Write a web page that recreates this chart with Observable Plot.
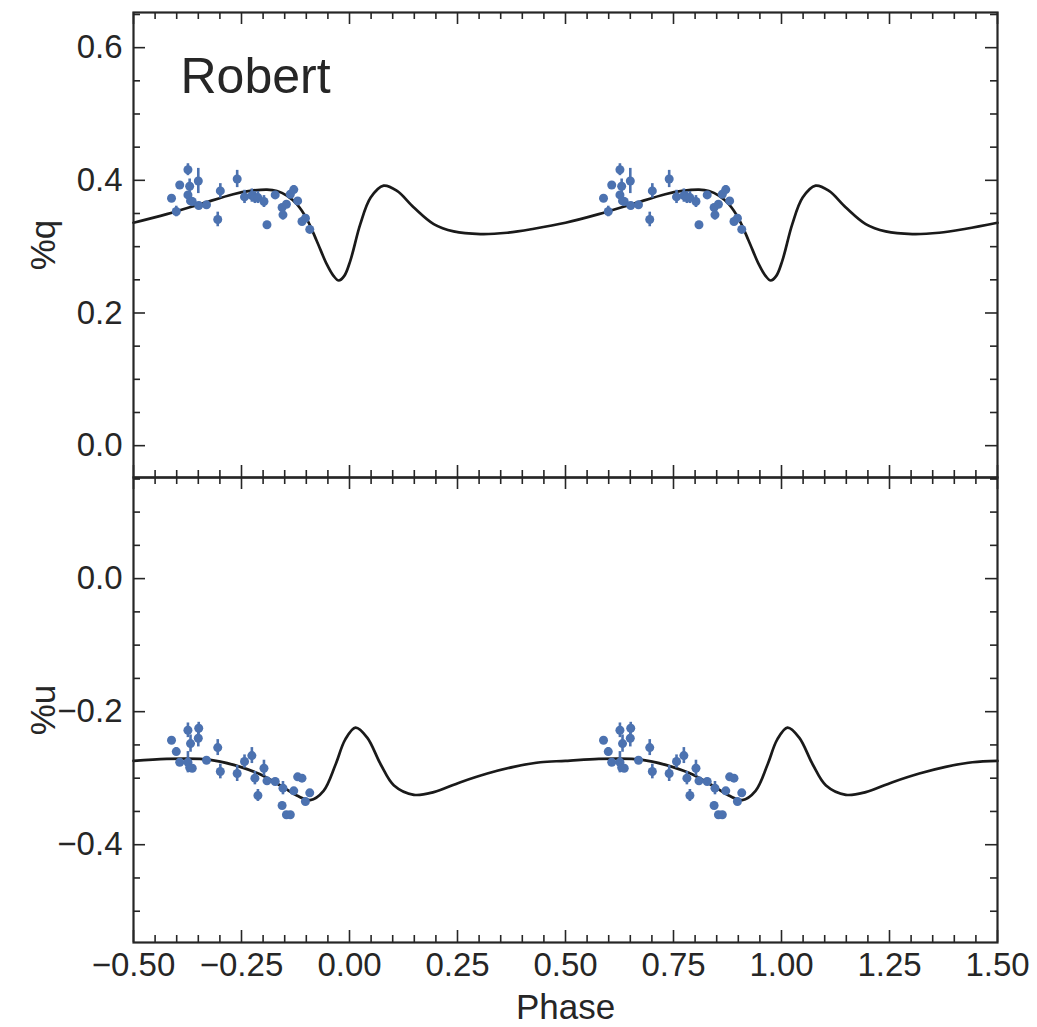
<!DOCTYPE html>
<html>
<head>
<meta charset="utf-8">
<script src="https://cdn.jsdelivr.net/npm/d3@7"></script>
<script src="https://cdn.jsdelivr.net/npm/@observablehq/plot@0.6"></script>
<style>
  html, body { margin: 0; padding: 0; background: #fff; }
  #wrap { position: relative; width: 1037px; height: 1027px; }
  #wrap svg { position: absolute; left: 0; overflow: visible; }
</style>
</head>
<body>
<div id="wrap"></div>
<script>
// ---- observed data (one cycle; shown twice, at phase and phase + 1) ----
const phase = [-0.412,-0.401,-0.393,-0.374,-0.374,-0.370,-0.368,-0.364,-0.350,-0.349,-0.331,-0.305,-0.299,-0.260,-0.243,-0.226,-0.219,-0.212,-0.198,-0.191,-0.172,-0.156,-0.154,-0.146,-0.137,-0.129,-0.120,-0.110,-0.102,-0.092];
const qObs  = [0.373,0.353,0.393,0.416,0.378,0.391,0.369,0.368,0.399,0.362,0.363,0.341,0.384,0.402,0.375,0.377,0.374,0.374,0.368,0.333,0.378,0.359,0.348,0.364,0.379,0.386,0.369,0.338,0.343,0.326];
const qErr  = [0.004,0.008,0.004,0.009,0.005,0.011,0.005,0.005,0.019,0.005,0.005,0.011,0.011,0.013,0.010,0.010,0.009,0.009,0.009,0.005,0.005,0.005,0.008,0.005,0.006,0.006,0.005,0.005,0.005,0.005];
const uObs  = [-0.243,-0.260,-0.276,-0.276,-0.228,-0.284,-0.248,-0.285,-0.240,-0.225,-0.273,-0.254,-0.290,-0.293,-0.275,-0.266,-0.300,-0.326,-0.285,-0.304,-0.305,-0.341,-0.315,-0.355,-0.355,-0.319,-0.298,-0.300,-0.335,-0.322];
const uErr  = [0.004,0.006,0.005,0.016,0.011,0.005,0.013,0.005,0.013,0.009,0.005,0.012,0.011,0.012,0.010,0.012,0.010,0.009,0.012,0.005,0.005,0.005,0.010,0.005,0.005,0.005,0.005,0.005,0.005,0.005];

// ---- model curves (one cycle) ----
const qModelPhase = [-0.5,-0.423,-0.346,-0.269,-0.230,-0.191,-0.168,-0.145,-0.122,-0.099,-0.076,-0.053,-0.037,-0.025,-0.012,0.002,0.025,0.049,0.079,0.110,0.149,0.195,0.241,0.303,0.365,0.427];
const qModel      = [0.336,0.349,0.364,0.379,0.384,0.386,0.384,0.377,0.364,0.342,0.309,0.274,0.256,0.249,0.256,0.279,0.334,0.374,0.392,0.384,0.359,0.334,0.323,0.319,0.321,0.327];
const uModelPhase = [-0.5,-0.423,-0.346,-0.299,-0.253,-0.207,-0.160,-0.122,-0.091,-0.060,-0.032,-0.010,0.014,0.041,0.072,0.103,0.149,0.195,0.257,0.319,0.380,0.442];
const uModel      = [-0.274,-0.271,-0.271,-0.275,-0.283,-0.294,-0.311,-0.326,-0.333,-0.319,-0.279,-0.242,-0.224,-0.239,-0.279,-0.311,-0.325,-0.321,-0.306,-0.293,-0.283,-0.276];

// ---- ticks ----
const xMajor = [-0.5,-0.25,0,0.25,0.5,0.75,1.0,1.25,1.5];
const xMinor = [-0.45,-0.4,-0.35,-0.3,-0.2,-0.15,-0.1,-0.05,0.05,0.1,0.15,0.2,0.3,0.35,0.4,0.45,0.55,0.6,0.65,0.7,0.8,0.85,0.9,0.95,1.05,1.1,1.15,1.2,1.3,1.35,1.4,1.45];
const qMajor = [0.0,0.2,0.4,0.6];
const qMinor = [-0.05,0.05,0.1,0.15,0.25,0.3,0.35,0.45,0.5,0.55,0.65];
const uMajor = [-0.4,-0.2,0.0];
const uMinor = [-0.5,-0.45,-0.35,-0.3,-0.25,-0.15,-0.1,-0.05,0.05,0.1,0.15];

// observations repeat each cycle; model repeats each cycle (closing point at phase 1.5)
const cycles = [0, 1];
const obs = cycles.flatMap(c => phase.map((p, i) => ({p: p + c, q: qObs[i], qe: qErr[i], u: uObs[i], ue: uErr[i]})));
const qCurve = [...cycles.flatMap(c => qModelPhase.map((p, i) => ({p: p + c, v: qModel[i]}))), {p: qModelPhase[0] + 2, v: qModel[0]}];
const uCurve = [...cycles.flatMap(c => uModelPhase.map((p, i) => ({p: p + c, v: uModel[i]}))), {p: uModelPhase[0] + 2, v: uModel[0]}];

const INK = "#262626", BLUE = "#4C72B0", LINE = "#1a1a1a";
const FONT = "'Liberation Sans', Arial, Helvetica, sans-serif";
const W = 1037, FW = 864, FH = 465, MAJ = 12, MIN = 7;
const TICKFS = 33, LABELFS = 35;

function tickMarks(yMajor, yMinor) {
  const o = {stroke: INK, strokeWidth: 1.6};
  return [
    Plot.tickX(xMajor, {x: d => d, insetBottom: FH - MAJ, ...o}),
    Plot.tickX(xMajor, {x: d => d, insetTop: FH - MAJ, ...o}),
    Plot.tickX(xMinor, {x: d => d, insetBottom: FH - MIN, ...o}),
    Plot.tickX(xMinor, {x: d => d, insetTop: FH - MIN, ...o}),
    Plot.tickY(yMajor, {y: d => d, insetRight: FW - MAJ, ...o}),
    Plot.tickY(yMajor, {y: d => d, insetLeft: FW - MAJ, ...o}),
    Plot.tickY(yMinor, {y: d => d, insetRight: FW - MIN, ...o}),
    Plot.tickY(yMinor, {y: d => d, insetLeft: FW - MIN, ...o})
  ];
}

const yFmt = d3.format(".1f"), xFmt = d3.format(".2f");

const topPlot = Plot.plot({
  width: W, height: 478,
  marginLeft: 133, marginRight: 40, marginTop: 12, marginBottom: 1,
  style: {fontFamily: FONT, fontSize: "30px", color: INK, background: "transparent"},
  x: {domain: [-0.5, 1.5], axis: null},
  y: {domain: [-0.048, 0.653], axis: null},
  marks: [
    Plot.line(qCurve, {x: "p", y: "v", curve: "catmull-rom", stroke: LINE, strokeWidth: 2.7}),
    Plot.ruleX(obs, {x: "p", y1: d => d.q - d.qe, y2: d => d.q + d.qe, stroke: BLUE, strokeWidth: 2.6}),
    Plot.dot(obs, {x: "p", y: "q", r: 4.5, fill: BLUE}),
    ...tickMarks(qMajor, qMinor),
    Plot.frame({stroke: INK, strokeWidth: 2.2}),
    Plot.text(qMajor, {y: d => d, frameAnchor: "left", dx: -11, textAnchor: "end", lineAnchor: "middle", text: d => yFmt(d), fill: INK, fontSize: TICKFS}),
    Plot.text(["%q"], {frameAnchor: "left", dx: -90, rotate: -90, textAnchor: "middle", lineAnchor: "middle", text: d => d, fill: INK, fontSize: LABELFS}),
    Plot.text(["Robert"], {frameAnchor: "top-left", dx: 47, dy: 64, textAnchor: "start", lineAnchor: "middle", text: d => d, fill: INK, fontSize: 50})
  ]
});
topPlot.style.top = "0px";

const bottomPlot = Plot.plot({
  width: W, height: 551,
  marginLeft: 133, marginRight: 40, marginTop: 1, marginBottom: 85,
  style: {fontFamily: FONT, fontSize: "30px", color: INK, background: "transparent"},
  x: {domain: [-0.5, 1.5], axis: null},
  y: {domain: [-0.547, 0.152], axis: null},
  marks: [
    Plot.line(uCurve, {x: "p", y: "v", curve: "catmull-rom", stroke: LINE, strokeWidth: 2.7}),
    Plot.ruleX(obs, {x: "p", y1: d => d.u - d.ue, y2: d => d.u + d.ue, stroke: BLUE, strokeWidth: 2.6}),
    Plot.dot(obs, {x: "p", y: "u", r: 4.5, fill: BLUE}),
    ...tickMarks(uMajor, uMinor),
    Plot.frame({stroke: INK, strokeWidth: 2.2}),
    Plot.text(uMajor, {y: d => d, frameAnchor: "left", dx: -11, textAnchor: "end", lineAnchor: "middle", text: d => yFmt(d), fill: INK, fontSize: TICKFS}),
    Plot.text(xMajor, {x: d => d, frameAnchor: "bottom", dy: 10, textAnchor: "middle", lineAnchor: "top", text: d => xFmt(d), fill: INK, fontSize: TICKFS}),
    Plot.text(["%u"], {frameAnchor: "left", dx: -90, rotate: -90, textAnchor: "middle", lineAnchor: "middle", text: d => d, fill: INK, fontSize: LABELFS}),
    Plot.text(["Phase"], {frameAnchor: "bottom", dy: 65, textAnchor: "middle", lineAnchor: "middle", text: d => d, fill: INK, fontSize: LABELFS})
  ]
});
bottomPlot.style.top = "476px";

document.getElementById("wrap").append(topPlot, bottomPlot);
</script>
</body>
</html>
